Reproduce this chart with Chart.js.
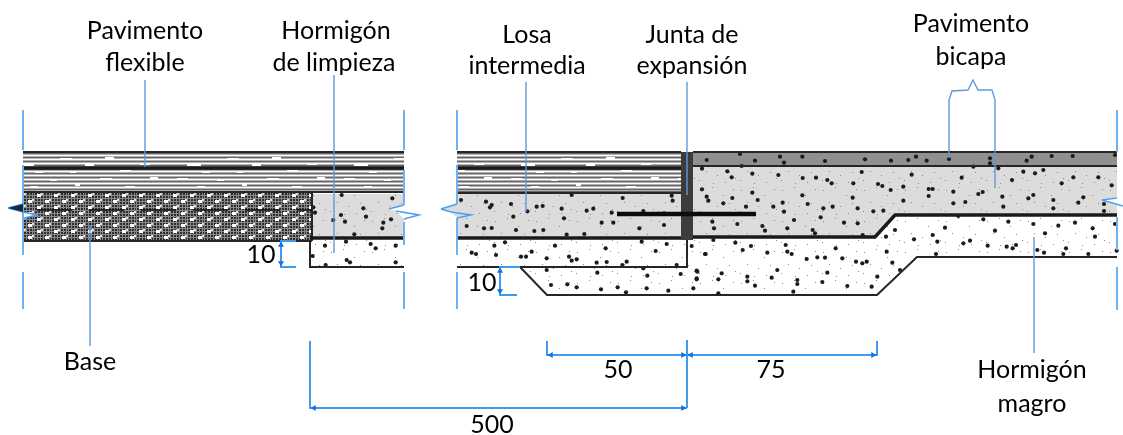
<!DOCTYPE html>
<html>
<head>
<meta charset="utf-8">
<style>
  html, body { margin: 0; padding: 0; background: #fff; }
  canvas { display: block; }
</style>
<script src="https://cdn.jsdelivr.net/npm/chart.js@4/dist/chart.umd.js"></script>
</head>
<body>
<canvas id="section" width="1123" height="435"></canvas>
<script>
// layers, in picture pixels
const asphaltLeft = [[23,152],[404,152],[404,193],[23,193]];
const asphaltMid = [[457,152],[681,152],[681,193],[457,193]];
const baseHatch = [[23,192],[312,192],[312,241],[23,241]];
const slabLeft = [[312,194],[404,194],[404,238],[312,238]];
const subLeft = [[310,240],[404,240],[404,267],[310,267]];
const slabMid = [[457,194],[681,194],[681,238],[457,238]];
const subMid = [[457,240],[687,240],[687,267],[457,267]];
const magro = [[520,267],[547,295],[877,295],[917,257],[1117,257],[1117,215],[895,215],[875,237],[687,237],[687,267]];
const slabRight = [[693,165],[1117,165],[1117,215],[895,215],[875,237],[693,237]];
const topRight = [[693,152],[1117,152],[1117,166],[693,166]];
const joint = [[681,152],[693,152],[693,240],[681,240]];

// notches where the section is cut off
const notchWhite = [[[389,209],[404,205],[419,215],[404,219],[396,211]], [[1102,200],[1123,196],[1123,206]], [[23,212],[37,215],[24,218]]];
const notchGrey = [[[441,209],[457,204],[471,215],[457,218],[451,212]]];

// black outlines
const thinLines = [
  [[23,152],[404,152]], [[23,192],[312,192]], [[312,192],[404,192]],
  [[23,241],[312,241]], [[312,192],[312,241]], [[310,241],[310,267],[404,267]],
  [[457,152],[681,152]], [[457,193],[681,193]], [[457,267],[687,267],[687,240]],
  [[520,267],[547,295],[877,295],[917,257],[1117,257]],
  [[693,152],[1117,152]], [[693,166],[1117,166]]
];
const heavyLines = [
  [[23,168],[404,168]], [[457,168],[681,168]], [[310,238],[404,238]], [[457,238],[687,238]],
  [[693,237],[875,237],[895,215],[1117,215]]
];
const rebar = [[617,214],[756,214]];
const baseDashes = [[37,210],[312,210]];

// leaders and dimensions
const leaders = [
  [[145,80],[145,167]], [[90,225],[90,346]], [[334,75],[334,253]], [[526,82],[526,212]],
  [[687,82],[687,195]], [[949,158],[949,100],[952,91],[968,90],[973,80],[978,90],[992,90],[995,100],[995,188]],
  [[1034,237],[1034,353]]
];
const cutLines = [
  [[23,110],[23,150]], [[23,165],[23,255]], [[23,272],[23,309]],
  [[404,110],[404,150]], [[404,170],[404,205]], [[404,222],[404,245]], [[404,272],[404,309]],
  [[457,110],[457,150]], [[457,165],[457,204]], [[457,218],[457,255]], [[457,272],[457,309]],
  [[1117,110],[1117,152]], [[1117,217],[1117,250]], [[1117,267],[1117,310]]
];
const dimLines = [
  [[547,341],[547,355],[877,355],[877,341]], [[687,340],[687,408]],
  [[310,341],[310,408],[687,408]],
  [[296,241],[281,241],[281,267],[296,267]], [[520,267],[500,267],[500,295],[517,295]]
];
const breakLines = [
  [[8,208],[23,204]], [[8,208],[23,212],[37,215],[24,218]],
  [[389,209],[404,205]], [[396,211],[419,215],[404,219]],
  [[441,209],[457,204]], [[441,209],[451,212],[471,215],[457,218]],
  [[1102,200],[1117,198]], [[1102,200],[1123,206]]
];
const breakDark = [[8,208],[23,204],[23,212]];
const arrowsRight = [[683,355],[873,355],[683,408]];
const arrowsLeft = [[551,355],[691,355],[314,408]];
const arrowsUp = [[281,245],[500,271]];
const arrowsDown = [[281,263],[500,291]];

const stonesRight = [[36,266],[112,274],[125,292],[187,281],[265,285],[338,294],[378,293],[412,300],[425,310],[490,310],[515,276],[564,312],[577,318],[602,330],[665,284],[640,320],[716,327],[728,327],[716,348],[790,335],[865,342],[878,336],[815,293],[937,350],[966,300],[1000,275],[1035,280],[1060,270],[1150,292],[1115,310],[1225,292],[1265,316],[1030,345],[1015,355],[1090,360],[1180,352],[1165,368],[36,328],[50,350],[55,362],[127,354],[100,370],[187,338],[203,360],[168,380],[250,380],[278,368],[282,395],[337,346],[353,372],[428,380],[400,385],[392,412],[488,353],[503,385],[550,394],[580,392],[640,362],[790,370],[826,366],[940,380],[1090,385],[1242,372],[1242,393],[67,425],[72,445],[142,432],[217,438],[225,452],[292,445],[312,420],[368,450],[375,460],[462,428],[503,430],[518,465],
  [70,480],[136,488],[183,498],[287,495],[158,510],[45,522],[232,518],[292,515],[305,522],[350,537],[382,532],[405,533],[437,505],[457,535],[498,545],[517,550],[530,545],[607,548],[590,515],[588,470],[615,450],[630,570],[22,575],[95,580],[20,595],[85,598],[172,590],[172,604],[245,593],[262,570],[322,600],[322,612],[412,578],[397,606],[195,617],[472,618],[562,590],[545,620],[310,635],[85,640],
  [672,478],[728,465],[742,485],[765,443],[820,490],[840,482],[893,497],[915,452],[950,500],[968,505],[978,495],[1042,510],[1062,518],[1128,505],[1120,522],[1215,470],[1208,445],[1155,428],[1105,437],[1065,460],[1030,432],[955,425],[880,418],[805,408],[738,522],[1195,522],[1275,432],[1280,512],
  [150,222],[50,240],[195,242],[270,230],[282,248],[337,230],[405,243],[525,238],[603,242],[655,240],[678,230],[710,242],[777,237],[900,235],[1010,242],[1025,230],[1085,228],[1148,228],[1275,225],[155,258],[850,260],[900,250],[925,265]];
const stonesMid = [[33,210],[108,215],[125,225],[120,232],[183,222],[190,260],[232,244],[260,230],[278,228],[335,236],[342,265],[410,242],[430,236],[365,195],[518,204],[485,248],[455,278],[490,278],[50,288],[102,295],[125,294],[198,300],[253,303],[280,300],[350,314],[403,312],[568,295],[642,285],[580,243],[665,197],[668,212],[642,250],
  [133,347],[65,368],[78,372],[138,375],[213,380],[228,380],[245,365],[315,347],[290,385],[357,380],[365,392],[380,388],[440,398],[470,396],[467,355],[517,405],[530,395],[575,335],[650,342],[617,363],[680,405],[165,337],[580,415],[290,420],[442,428],[592,437],[692,432],[740,422],[740,448],[725,348],[767,372],[303,465],[352,463],[380,472],[453,478],[503,472],[528,487],[590,475],[655,482],[730,475]];
const stonesLeft = [[365,285],[517,295],[285,338],[430,325],[340,360],[363,345],[375,365],[438,350],[490,368],[513,358],[487,385],[403,403],[280,322],
  [315,437],[378,425],[452,432],[467,445],[527,437],[278,468],[380,480],[390,487],[527,487],[317,495]];

// text: [string, centre x, middle y]
const textLabels = [
  ['Pavimento',145,31], ['flexible',145,63], ['Hormigón',336,31], ['de limpieza',334,63],
  ['Losa',527,35], ['intermedia',527,66], ['Junta de',692,35], ['expansión',692,66],
  ['Pavimento',971,24], ['bicapa',971,57], ['Base',90,362], ['10',261,255], ['10',482,283],
  ['50',618,370], ['75',771,370], ['500',492,425], ['Hormigón',1032,370], ['magro',1032,404]
];

function tile(w, h, draw) {
  const c = document.createElement('canvas');
  c.width = w; c.height = h;
  draw(c.getContext('2d'));
  return c.getContext('2d').createPattern(c, 'repeat');
}

function stipple(bg) {
  return tile(41, 31, g => {
    g.fillStyle = bg; g.fillRect(0, 0, 41, 31);
    g.fillStyle = '#8a8a8a';
    [[3,4],[15,1],[26,9],[36,3],[9,16],[20,20],[32,17],[2,25],[16,28],[28,27],[38,23]].forEach(p => g.fillRect(p[0], p[1], 1, 1));
  });
}

// stripes sit at fixed picture heights, so the tile is as tall as the page
const asphaltFill = tile(167, 435, g => {
  g.fillStyle = '#b0b0b0'; g.fillRect(0, 0, 167, 435);
  g.fillStyle = '#fff';
  [155,159,163,171,175,179,183,187].forEach(y => g.fillRect(0, y, 167, 1));
  g.fillStyle = '#666';
  [153,157,161,165,169,173,177,181,185,189,191].forEach(y => g.fillRect(0, y, 167, 1));
  g.fillStyle = '#fff';
  [[60,158,12],[105,157,9],[20,164,14],[85,164,9],[140,163,10],[35,171,8],[70,171,6],[120,170,11],[10,178,11],[50,179,7],[100,178,12],[150,177,8],[30,186,8],[75,184,5],[125,186,10]].forEach(d => g.fillRect(d[0], d[1], d[2], 2));
});

const hatchFill = tile(17, 12, g => {
  g.fillStyle = '#2e2e2e'; g.fillRect(0, 0, 17, 12);
  g.fillStyle = '#8a8a8a';
  for (let i = 0; i < 17; i += 3) g.fillRect(i, 0, 1, 12);
  for (let j = 0; j < 12; j += 3) g.fillRect(0, j, 17, 1);
  g.fillStyle = '#fff';
  g.fillRect(3, 2, 4, 3); g.fillRect(11, 8, 4, 3);
  g.fillStyle = '#ddd';
  g.fillRect(7, 1, 2, 2); g.fillRect(15, 7, 2, 2);
});

const toXY = pts => pts.map(p => ({x: p[0], y: p[1]}));
const datasets = [];
const add = d => datasets.push(Object.assign({showLine: true, pointRadius: 0, borderWidth: 0, order: -datasets.length}, d));
const shape = (pts, fillStyle) => add({data: toXY(pts), fill: 'shape', backgroundColor: fillStyle, borderColor: 'transparent'});
const line = (pts, color, width, extra) => add(Object.assign({data: toXY(pts), borderColor: color, borderWidth: width, fill: false}, extra));
const dots = (pts, color, radius, extra) => add(Object.assign({data: toXY(pts), showLine: false, pointRadius: radius, pointBackgroundColor: color, pointBorderWidth: 0}, extra));

shape(asphaltLeft, asphaltFill);
shape(asphaltMid, asphaltFill);
shape(baseHatch, hatchFill);
shape(slabLeft, stipple('#dcdcdc'));
shape(subLeft, stipple('#fff'));
shape(slabMid, stipple('#dcdcdc'));
shape(subMid, stipple('#fff'));
shape(magro, stipple('#fff'));
shape(slabRight, stipple('#dcdcdc'));
shape(topRight, stipple('#909090'));
notchWhite.forEach(n => shape(n, '#fff'));
notchGrey.forEach(n => shape(n, '#dcdcdc'));

dots(stonesRight.map(p => [690 + p[0] / 3, 80 + p[1] / 3]), '#1c1c1c', 2.1);
dots(stonesMid.map(p => [450 + p[0] / 3, 130 + p[1] / 3]), '#1c1c1c', 2.1);
dots(stonesLeft.map(p => [220 + p[0] / 3, 100 + p[1] / 3]), '#1c1c1c', 2.1);

thinLines.forEach(l => line(l, '#262626', 2));
heavyLines.forEach(l => line(l, '#1a1a1a', 3.5));
line(baseDashes, '#111', 1.5, {borderDash: [35, 17]});
shape(joint, '#3c3c3c');
line(rebar, '#0c0c0c', 4.5);
leaders.forEach(l => line(l, '#5f9bd6', 1.4));
cutLines.forEach(l => line(l, '#6eb2f6', 2));
dimLines.forEach(l => line(l, '#3e9bf0', 2));
breakLines.forEach(l => line(l, '#4aa0f0', 1.5));
shape(breakDark, '#1a2a3a');
dots(arrowsRight, '#1273de', 3.5, {pointStyle: 'triangle', rotation: 90});
dots(arrowsLeft, '#1273de', 3.5, {pointStyle: 'triangle', rotation: -90});
dots(arrowsUp, '#1273de', 3.5, {pointStyle: 'triangle', rotation: 0});
dots(arrowsDown, '#1273de', 3.5, {pointStyle: 'triangle', rotation: 180});

const labelPlugin = {
  id: 'labels',
  afterDraw(chart) {
    const {ctx, scales} = chart;
    ctx.save();
    ctx.font = '25px Lato';
    ctx.fillStyle = '#000';
    ctx.textAlign = 'center';
    ctx.textBaseline = 'middle';
    textLabels.forEach(t => ctx.fillText(t[0], scales.x.getPixelForValue(t[1]), scales.y.getPixelForValue(t[2])));
    ctx.restore();
  }
};

new Chart(document.getElementById('section'), {
  type: 'scatter',
  data: {datasets: datasets},
  plugins: [labelPlugin],
  options: {
    responsive: false,
    animation: false,
    layout: {padding: 0, autoPadding: false},
    scales: {
      x: {display: false, min: 0, max: 1123},
      y: {display: false, min: 0, max: 435, reverse: true}
    },
    plugins: {legend: {display: false}, tooltip: {enabled: false}}
  }
});
</script>
</body>
</html>
